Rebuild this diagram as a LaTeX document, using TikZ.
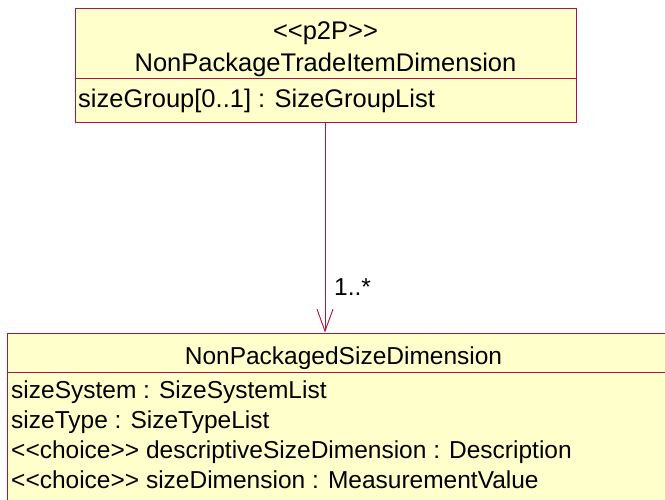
\documentclass[tikz,border=0pt]{standalone}
\usepackage{fontspec}
\setmainfont{Liberation Sans}
\usetikzlibrary{arrows.meta}
\definecolor{umlfill}{RGB}{255,255,204}
\definecolor{umlline}{RGB}{170,20,70}
\tikzset{
  classbox/.style={draw=umlline, fill=umlfill, line width=1pt, rectangle, inner sep=0pt},
  bigtxt/.style={font=\fontsize{25.5}{28}\selectfont, inner sep=0pt, anchor=base},
  smalltxt/.style={font=\fontsize{24.5}{28}\selectfont, inner sep=0pt, anchor=base},
  attr/.style={smalltxt, anchor=base west},
  assoc/.style={draw=umlline, line width=0.9pt, -{Straight Barb[length=22pt,width=16pt,line width=0.9pt]}},
}
\begin{document}
\begin{tikzpicture}[x=1pt,y=-1pt]
\useasboundingbox (0,0) rectangle (665,500);
\clip (0,0) rectangle (665,500);
% top class
\node[classbox, minimum width=501pt, minimum height=114pt] (top) at (325.5,66) {};
\draw[umlline, line width=1pt] (top.west |- 0,79) -- (top.east |- 0,79);
\node[bigtxt] (topster) at (325.5,40) {<{}<p2P>{}>};
\node[bigtxt] (topname) at (325.5,72) {NonPackageTradeItemDimension};
\node[bigtxt, anchor=base west] (topattr) at (78,108) {sizeGroup[0..1] : SizeGroupList};
% bottom class
\node[classbox, minimum width=673pt, minimum height=200pt] (bot) at (343.5,433) {};
\draw[umlline, line width=1pt] (bot.west |- 0,372) -- (bot.east |- 0,372);
\node[smalltxt] (botname) at (343.5,364) {NonPackagedSizeDimension};
\node[attr] (a1) at (11,398) {sizeSystem : SizeSystemList};
\node[attr] (a2) at (11,428) {sizeType : SizeTypeList};
\node[attr] (a3) at (11,458) {<{}<choice>{}> descriptiveSizeDimension : Description};
\node[attr] (a4) at (11,488) {<{}<choice>{}> sizeDimension : MeasurementValue};
% association
\coordinate (src) at (325,123);
\draw[assoc] (src) -- (src |- bot.north);
\node[smalltxt, anchor=base west] (mult) at (334,295) {1..*};
\end{tikzpicture}
\end{document}
